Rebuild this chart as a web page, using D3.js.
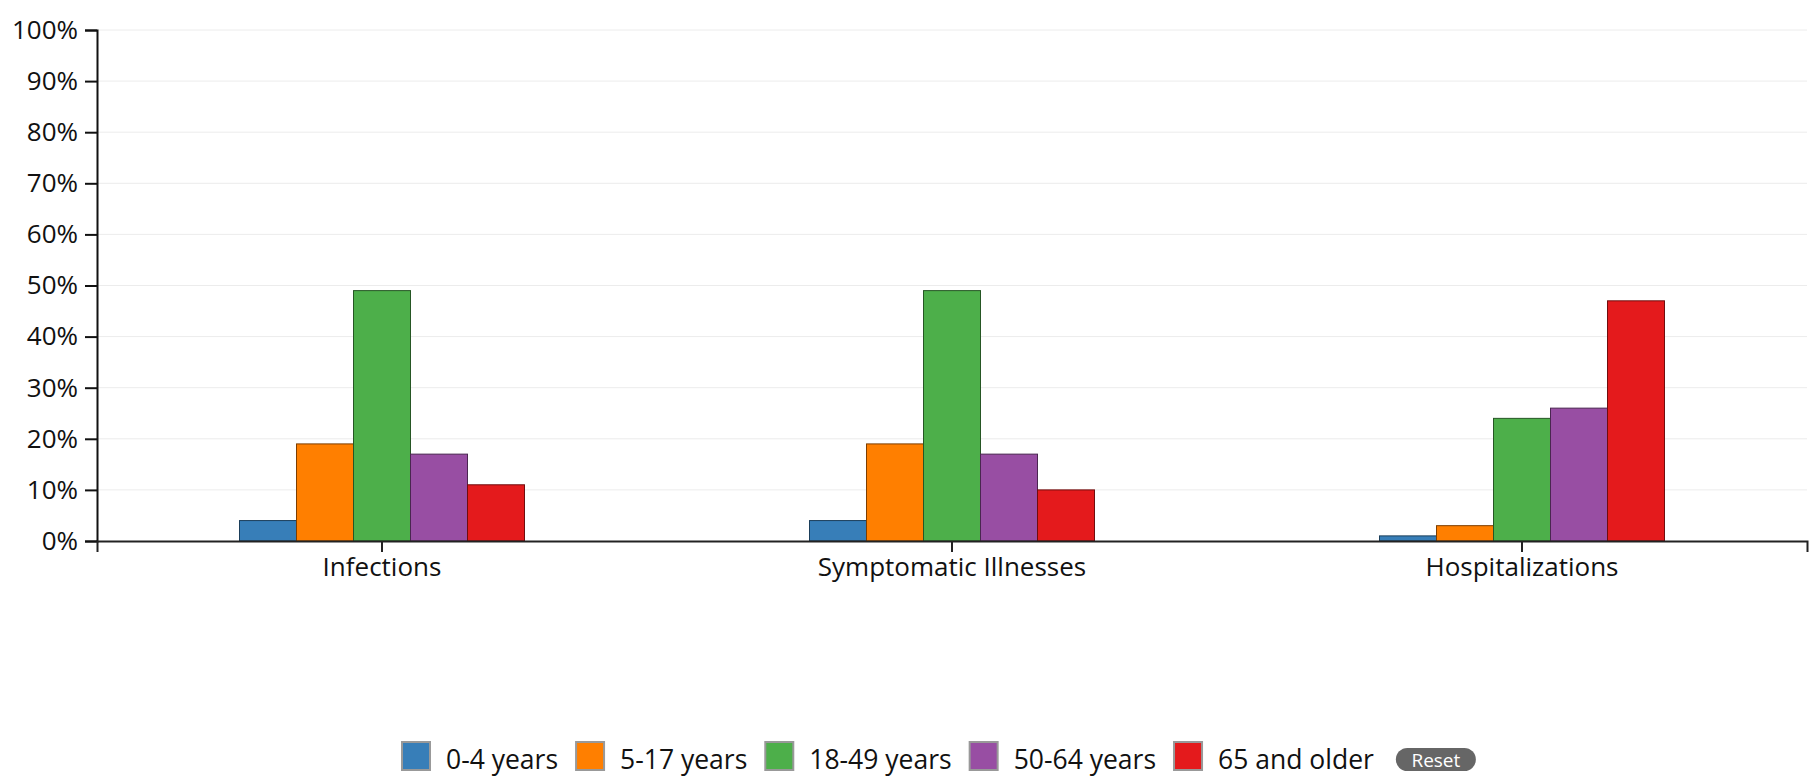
<!DOCTYPE html>
<html>
<head>
<meta charset="utf-8">
<script src="https://cdn.jsdelivr.net/npm/d3@7"></script>
<style>
  html, body { margin: 0; padding: 0; background: #fff; }
  svg { display: block; font-family: "Segoe UI", "Open Sans", sans-serif; }
</style>
</head>
<body>
<svg id="chart" width="1810" height="777"></svg>
<script>
const categories = ["Infections", "Symptomatic Illnesses", "Hospitalizations"];
const groups = ["0-4 years", "5-17 years", "18-49 years", "50-64 years", "65 and older"];
const colors = ["#377eb8", "#ff7f00", "#4daf4a", "#984ea3", "#e41a1c"];
const infections = [4, 19, 49, 17, 11];
const symptomatic = [4, 19, 49, 17, 10];
const hospitalizations = [1, 3, 24, 26, 47];
const yTicks = [0, 10, 20, 30, 40, 50, 60, 70, 80, 90, 100];

const seriesByCategory = [infections, symptomatic, hospitalizations];
const data = categories.map((c, i) => ({
  category: c,
  values: groups.map((g, j) => ({ group: g, value: seriesByCategory[i][j] }))
}));

const svg = d3.select("#chart");
const margin = { left: 97, top: 30, right: 1807, bottom: 541 };
const FS = 26;

const x0 = d3.scaleBand().domain(categories).range([margin.left, margin.right])
  .paddingInner(0.5).paddingOuter(0.25);
const x1 = d3.scaleBand().domain(groups).range([0, x0.bandwidth()]);
const y = d3.scaleLinear().domain([0, 100]).range([margin.bottom, margin.top]);
const color = d3.scaleOrdinal().domain(groups).range(colors);

// gridlines
svg.append("g").selectAll("line").data(yTicks.filter(d => d > 0)).join("line")
  .attr("x1", margin.left).attr("x2", margin.right)
  .attr("y1", d => y(d)).attr("y2", d => y(d))
  .attr("stroke", "#ececec").attr("stroke-width", 1);

// bars
svg.append("g").selectAll("g").data(data).join("g")
  .attr("transform", d => `translate(${x0(d.category)},0)`)
  .selectAll("rect").data(d => d.values).join("rect")
  .attr("x", d => x1(d.group))
  .attr("y", d => y(d.value))
  .attr("width", x1.bandwidth())
  .attr("height", d => y(0) - y(d.value))
  .attr("fill", d => color(d.group))
  .attr("stroke", d => d3.rgb(color(d.group)).darker(2))
  .attr("stroke-width", 1);

// y axis
const yAxis = svg.append("g")
  .attr("transform", `translate(${margin.left},0)`)
  .call(d3.axisLeft(y).tickValues(yTicks).tickFormat(d => d + "%").tickSize(12).tickPadding(7));
yAxis.attr("font-family", null).attr("font-size", null);
yAxis.selectAll("text").attr("font-size", FS).attr("fill", "#111");
yAxis.selectAll("line, path").attr("stroke", "#111").attr("stroke-width", 2);

// x axis
const xAxis = svg.append("g")
  .attr("transform", `translate(0,${margin.bottom})`)
  .call(d3.axisBottom(x0).tickSize(11).tickPadding(6));
xAxis.attr("font-family", null).attr("font-size", null);
xAxis.selectAll("text").attr("font-size", FS).attr("fill", "#111");
xAxis.selectAll("line, path").attr("stroke", "#222").attr("stroke-width", 2);

// legend
const legend = svg.append("g");
let lx = 402;
const swatch = 28, sy = 742;
groups.forEach((g, i) => {
  legend.append("rect")
    .attr("x", lx).attr("y", sy).attr("width", swatch).attr("height", swatch)
    .attr("fill", color(g)).attr("stroke", "#999").attr("stroke-width", 2);
  const t = legend.append("text")
    .attr("x", lx + swatch + 16).attr("y", 769)
    .attr("font-size", 26.5).attr("fill", "#111").text(g);
  lx = lx + swatch + 16 + t.node().getComputedTextLength() + 18;
});
const bx = lx + 4;
legend.append("rect")
  .attr("x", bx).attr("y", 748).attr("width", 80).attr("height", 23)
  .attr("rx", 11.5).attr("fill", "#666");
legend.append("text")
  .attr("x", bx + 40).attr("y", 766.5).attr("text-anchor", "middle")
  .attr("font-size", 19).attr("fill", "#fff").text("Reset");
</script>
</body>
</html>
